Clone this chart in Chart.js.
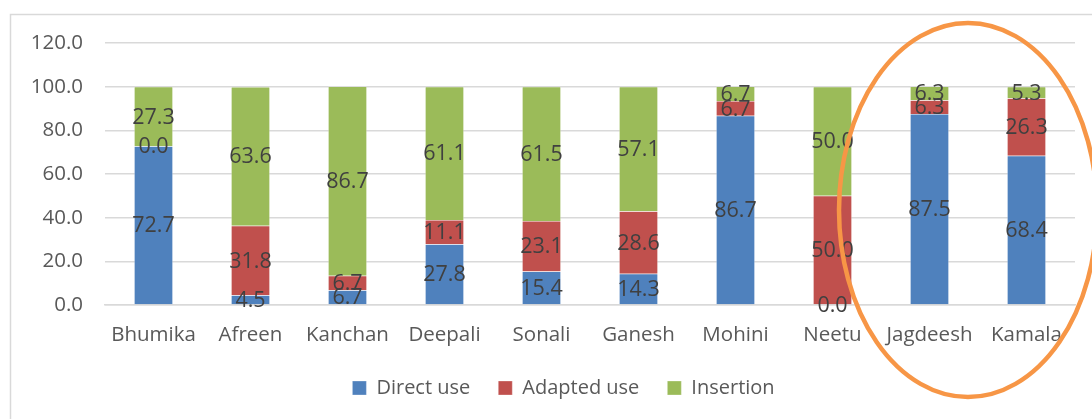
<!DOCTYPE html>
<html>
<head>
<meta charset="utf-8">
<script src="https://cdn.jsdelivr.net/npm/chart.js@4/dist/chart.umd.min.js"></script>
<style>
html,body{margin:0;padding:0;background:#fff;}
#wrap{position:relative;width:1092px;height:419px;}
canvas{display:block;}
</style>
</head>
<body>
<div id="wrap"><canvas id="c" width="1092" height="419"></canvas></div>
<script>
const categories = ["Bhumika","Afreen","Kanchan","Deepali","Sonali","Ganesh","Mohini","Neetu","Jagdeesh","Kamala"];
const directUse = [72.7, 4.5, 6.7, 27.8, 15.4, 14.3, 86.7, 0.0, 87.5, 68.4];
const adaptedUse = [0.0, 31.8, 6.7, 11.1, 23.1, 28.6, 6.7, 50.0, 6.3, 26.3];
const insertion = [27.3, 63.6, 86.7, 61.1, 61.5, 57.1, 6.7, 50.0, 6.3, 5.3];
const seriesNames = ["Direct use","Adapted use","Insertion"];
const yTicks = [0, 20, 40, 60, 80, 100, 120];

const FONT = "'Open Sans', 'Liberation Sans', sans-serif";

const frame = {
  id: 'frame',
  beforeDraw(chart) {
    const ctx = chart.ctx;
    ctx.save();
    ctx.fillStyle = '#fff';
    ctx.fillRect(0, 0, chart.width, chart.height);
    ctx.strokeStyle = '#d9d9d9';
    ctx.lineWidth = 1.5;
    ctx.beginPath();
    ctx.moveTo(10.5, 419);
    ctx.lineTo(10.5, 14.5);
    ctx.lineTo(1092, 14.5);
    ctx.stroke();
    ctx.restore();
  }
};

const legendShift = {
  id: 'legendShift',
  afterLayout(chart) {
    if (chart.legend) {
      chart.legend.left += 21;
      chart.legend.right += 21;
    }
  }
};

const labels = {
  id: 'barLabels',
  afterDatasetsDraw(chart) {
    const ctx = chart.ctx;
    ctx.save();
    ctx.font = "21.5px " + FONT;
    ctx.fillStyle = '#404040';
    ctx.textAlign = 'center';
    ctx.textBaseline = 'middle';
    chart.data.datasets.forEach((ds, i) => {
      const meta = chart.getDatasetMeta(i);
      meta.data.forEach((el, j) => {
        const v = ds.data[j];
        const cy = (el.y + el.base) / 2;
        ctx.fillText(v.toFixed(1), el.x, cy + 1);
      });
    });
    ctx.restore();
  }
};

const ellipse = {
  id: 'ellipseMark',
  afterDraw(chart) {
    const ctx = chart.ctx;
    ctx.save();
    ctx.strokeStyle = '#F79646';
    ctx.lineWidth = 4.5;
    ctx.beginPath();
    ctx.ellipse(968, 210, 129, 187, 0, 0, Math.PI * 2);
    ctx.stroke();
    ctx.restore();
  }
};

new Chart(document.getElementById('c'), {
  type: 'bar',
  data: {
    labels: categories,
    datasets: [
      { label: seriesNames[0], data: directUse, backgroundColor: '#4F81BD', borderColor: 'rgba(255,255,255,0.6)', borderWidth: 0.5 },
      { label: seriesNames[1], data: adaptedUse, backgroundColor: '#C0504D', borderColor: 'rgba(255,255,255,0.6)', borderWidth: 0.5 },
      { label: seriesNames[2], data: insertion, backgroundColor: '#9BBB59', borderColor: 'rgba(255,255,255,0.6)', borderWidth: 0.5 }
    ]
  },
  options: {
    responsive: false,
    animation: false,
    devicePixelRatio: 1,
    layout: { padding: { left: 10, right: 17, top: 43, bottom: 11 } },
    datasets: { bar: { categoryPercentage: 0.4, barPercentage: 1.0 } },
    plugins: {
      legend: {
        position: 'bottom',
        labels: {
          font: { family: FONT, size: 20 },
          color: '#595959',
          boxWidth: 14,
          boxHeight: 14,
          padding: 28
        }
      },
      tooltip: { enabled: false }
    },
    scales: {
      x: {
        stacked: true,
        grid: { display: false, drawTicks: false },
        border: { display: true, color: '#d9d9d9', width: 1.5 },
        ticks: { font: { family: FONT, size: 20.5 }, color: '#595959', padding: 18 },
        afterFit(scale) { scale.height = 45; }
      },
      y: {
        stacked: true,
        min: 0,
        max: 120,
        afterBuildTicks(scale) { scale.ticks = yTicks.map(v => ({ value: v })); },
        grid: { color: '#d9d9d9', lineWidth: 1.5, drawTicks: false },
        border: { display: false },
        ticks: {
          font: { family: FONT, size: 20.5 },
          color: '#595959',
          padding: 22,
          callback: (v) => Number(v).toFixed(1)
        },
        afterFit(scale) { scale.width = 95; }
      }
    }
  },
  plugins: [frame, legendShift, labels, ellipse]
});
</script>
</body>
</html>
